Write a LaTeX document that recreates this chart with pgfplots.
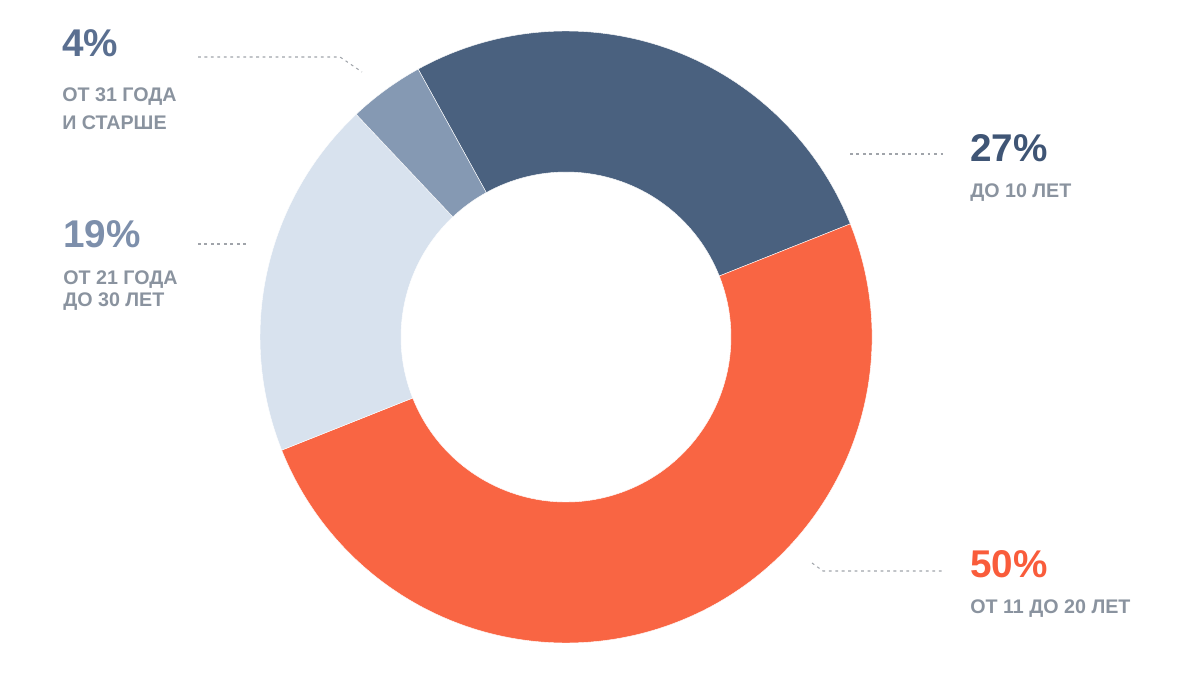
\documentclass[border=0pt]{standalone}
\usepackage{fontspec}
\setmainfont{Liberation Sans}
\usepackage{pgfplots}
\usepackage{pgfplotstable}
\pgfplotsset{compat=1.18}
\definecolor{cDark}{HTML}{4A617F}
\definecolor{cOrange}{HTML}{F96543}
\definecolor{cLight}{HTML}{D8E2EE}
\definecolor{cMid}{HTML}{8599B3}
\definecolor{tDark}{HTML}{3F5575}
\definecolor{tMid}{HTML}{5A6F90}
\definecolor{tLight}{HTML}{7D8FAB}
\definecolor{tOrange}{HTML}{F95C3B}
\definecolor{tGray}{HTML}{8A939F}
\definecolor{lGray}{HTML}{A0A4AA}
% shares (percent), clockwise from the top
\pgfplotstableread{
share
27
50
19
4
}\shares
\pgfplotstablegetelem{0}{share}\of\shares \let\sA\pgfplotsretval
\pgfplotstablegetelem{1}{share}\of\shares \let\sB\pgfplotsretval
\pgfplotstablegetelem{2}{share}\of\shares \let\sC\pgfplotsretval
\pgfplotstablegetelem{3}{share}\of\shares \let\sD\pgfplotsretval
\pgfmathsetmacro\aA{118.9}
\pgfmathsetmacro\aB{\aA-3.6*\sA}
\pgfmathsetmacro\aC{\aB-3.6*\sB}
\pgfmathsetmacro\aD{\aC-3.6*\sC}
\pgfmathsetmacro\aE{\aD-3.6*\sD}
\newcommand\ringslice[3]{%
  \fill[#3,draw=white,line width=0.3pt]
    (axis cs:{566+306*cos(#1)},{338+306*sin(#1)})
    arc[start angle=#1,end angle=#2,radius=7.65cm]
    -- (axis cs:{566+165*cos(#2)},{338+165*sin(#2)})
    arc[start angle=#2,end angle=#1,radius=4.125cm] -- cycle;}
\begin{document}
\begin{tikzpicture}
\begin{axis}[
  width=30cm, height=16.875cm, scale only axis,
  xmin=0, xmax=1200, ymin=0, ymax=675,
  hide axis, clip=false]
\addplot[draw=none] coordinates {(0,0) (1200,675)};
\ringslice{\aA}{\aB}{cDark}
\ringslice{\aB}{\aC}{cOrange}
\ringslice{\aC}{\aD}{cLight}
\ringslice{\aD}{\aE}{cMid}
% leader lines
\tikzset{lead/.style={lGray,line width=0.75pt,dash pattern=on 2pt off 2.6pt}}
\draw[lead] (axis cs:198,618) -- (axis cs:340,618) -- (axis cs:362,603);
\draw[lead] (axis cs:198,431) -- (axis cs:247,431);
\draw[lead] (axis cs:850,521) -- (axis cs:943,521);
\draw[lead] (axis cs:812,112) -- (axis cs:823,104) -- (axis cs:943,104);
% labels
\tikzset{pct/.style={anchor=base west,inner sep=0pt,font=\fontsize{27.5}{30}\selectfont\bfseries},
         lab/.style={anchor=base west,inner sep=0pt,tGray,font=\fontsize{14}{16}\selectfont\bfseries}}
\node[pct,tMid] at (axis cs:62,618) {4\%};
\node[lab] at (axis cs:62,573) {ОТ 31 ГОДА};
\node[lab] at (axis cs:62,545) {И СТАРШЕ};
\node[pct,tLight] at (axis cs:63,428) {19\%};
\node[lab] at (axis cs:63,391) {ОТ 21 ГОДА};
\node[lab] at (axis cs:63,369) {ДО 30 ЛЕТ};
\node[pct,tDark] at (axis cs:970,513) {27\%};
\node[lab] at (axis cs:970,477) {ДО 10 ЛЕТ};
\node[pct,tOrange] at (axis cs:970,98) {50\%};
\node[lab] at (axis cs:970,62) {ОТ 11 ДО 20 ЛЕТ};
\end{axis}
\pgfresetboundingbox
\path[use as bounding box] (current axis.south west) rectangle (current axis.north east);
\end{tikzpicture}
\end{document}
